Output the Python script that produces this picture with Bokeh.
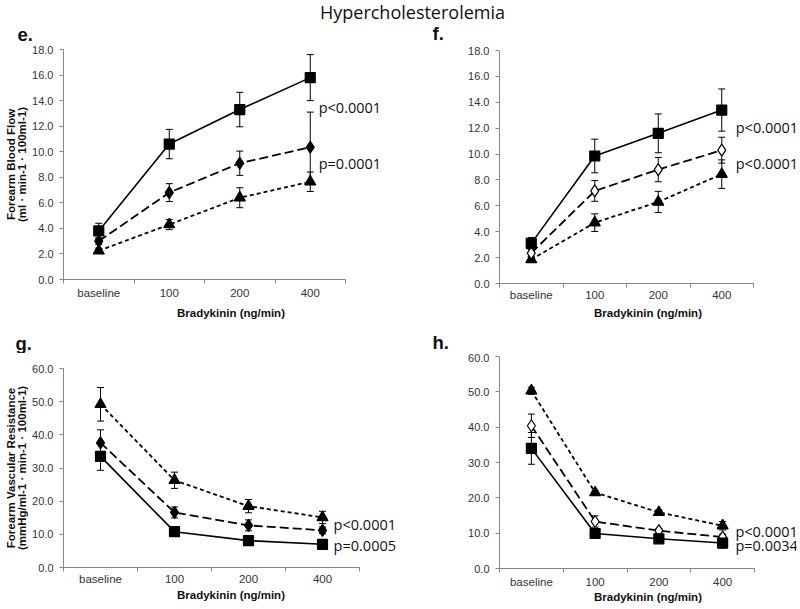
import numpy as np
from bokeh.plotting import figure
from bokeh.models import (Range1d, FixedTicker, NumeralTickFormatter, Whisker,
                          TeeHead, ColumnDataSource, Label)
from bokeh.layouts import column, row
from bokeh.embed import file_html
from bokeh.resources import INLINE

TITLE = "Hypercholesterolemia"
categories = ["baseline", "100", "200", "400"]
x_title = "Bradykinin (ng/min)"
ylabel_flow = "Forearm Blood Flow\n(ml · min-1 · 100ml-1)"
ylabel_res = "Forearm Vascular Resistance\n(mmHg/ml-1 · min-1 · 100ml-1)"
panel_letters = ["e.", "f.", "g.", "h."]

# ---- panel e (forearm blood flow) ----
e_square = [3.8, 10.6, 13.3, 15.8]
e_square_err = [0.6, 1.15, 1.35, 1.8]
e_diamond = [3.0, 6.8, 9.1, 10.35]
e_diamond_err = [0.25, 0.7, 0.95, 2.75]
e_triangle = [2.25, 4.3, 6.4, 7.65]
e_triangle_err = [0.2, 0.4, 0.78, 0.76]
e_pvals = ["p<0.0001", "p=0.0001"]

# ---- panel f (forearm blood flow) ----
f_square = [3.1, 9.85, 11.6, 13.4]
f_square_err = [0.45, 1.3, 1.5, 1.63]
f_diamond = [2.35, 7.15, 8.8, 10.3]
f_diamond_err = [0.3, 0.8, 0.94, 1.0]
f_triangle = [1.85, 4.7, 6.3, 8.45]
f_triangle_err = [0.2, 0.68, 0.82, 1.1]
f_pvals = ["p<0.0001", "p<0.0001"]

# ---- panel g (forearm vascular resistance) ----
g_square = [33.5, 10.8, 8.1, 7.0]
g_square_err = [4.2, 0.8, 0.6, 0.5]
g_diamond = [37.6, 16.6, 12.7, 11.2]
g_diamond_err = [3.9, 1.65, 1.65, 1.0]
g_triangle = [49.2, 26.3, 18.5, 15.1]
g_triangle_err = [5.05, 2.45, 2.0, 1.85]
g_pvals = ["p<0.0001", "p=0.0005"]

# ---- panel h (forearm vascular resistance) ----
h_square = [34.0, 9.9, 8.4, 7.2]
h_square_err = [4.5, 0.5, 0.5, 1.4]
h_diamond = [40.4, 13.3, 10.7, 8.9]
h_diamond_err = [3.3, 1.6, 0.6, 0.8]
h_triangle = [50.3, 21.5, 15.9, 12.1]
h_triangle_err = [1.0, 0.5, 0.7, 1.2]
h_pvals = ["p<0.0001", "p=0.0034"]

AXIS_COLOR = "#868686"
TICK_TEXT = "#333333"
FULL_W = 800


def make_panel(ylabel, ymax, ystep, squares, diamonds, triangles,
               open_diamond, pvals, pval_pos, geom, xlab_standoff, xtitle_standoff):
    # geom: left border, axis length (px) for the categories, frame width,
    #       right border, top border, frame height, bottom border
    bl, axis_px, fw, br, bt, fh, bb = geom
    n = len(categories)
    unit = axis_px / n
    p = figure(frame_width=fw, frame_height=fh, min_border_left=bl,
               min_border_right=br, min_border_top=bt, min_border_bottom=bb,
               x_range=Range1d(0, fw / unit), y_range=Range1d(0, ymax),
               toolbar_location=None, output_backend="svg", title=None)
    p.grid.visible = False
    p.outline_line_color = None

    xs = [i + 0.5 for i in range(n)]
    bounds = list(range(n + 1))

    xa = p.xaxis[0]
    xa.bounds = (0, n)
    xa.ticker = FixedTicker(ticks=xs, minor_ticks=bounds)
    xa.major_label_overrides = {x: c for x, c in zip(xs, categories)}
    xa.major_tick_out = 0
    xa.major_tick_in = 0
    xa.minor_tick_out = 4
    xa.minor_tick_in = 0
    xa.minor_tick_line_color = AXIS_COLOR
    xa.axis_line_color = AXIS_COLOR
    xa.major_label_text_font = "Liberation Sans"
    xa.major_label_text_font_size = "11.5px"
    xa.major_label_text_color = TICK_TEXT
    xa.major_label_standoff = xlab_standoff
    xa.axis_label = x_title
    xa.axis_label_text_font = "Liberation Sans"
    xa.axis_label_text_font_size = "11.5px"
    xa.axis_label_text_font_style = "bold"
    xa.axis_label_text_color = "#111111"
    xa.axis_label_standoff = xtitle_standoff

    ya = p.yaxis[0]
    yt = list(np.arange(0, ymax + ystep / 2, ystep))
    ya.ticker = FixedTicker(ticks=yt, minor_ticks=[])
    ya.formatter = NumeralTickFormatter(format="0.0")
    ya.major_tick_out = 4
    ya.major_tick_in = 0
    ya.major_tick_line_color = AXIS_COLOR
    ya.axis_line_color = AXIS_COLOR
    ya.major_label_text_font = "Liberation Sans"
    ya.major_label_text_font_size = "11px"
    ya.major_label_text_color = TICK_TEXT
    ya.major_label_standoff = 6
    if ylabel:
        ya.axis_label = ylabel
        ya.axis_label_text_font = "Liberation Sans"
        ya.axis_label_text_font_size = "11.5px"
        ya.axis_label_text_font_style = "bold"
        ya.axis_label_text_color = "#111111"
        ya.axis_label_text_line_height = 0.95
        ya.axis_label_standoff = 1

    specs = [
        (triangles, "triangle", "4 3", "black", 11),
        (diamonds, "diamond", "9 4", "white" if open_diamond else "black", 12),
        (squares, "square", "solid", "black", 10),
    ]
    for (vals, errs), marker, dash, fill, size in specs:
        src = ColumnDataSource(dict(
            x=xs, y=vals,
            upper=[v + e for v, e in zip(vals, errs)],
            lower=[v - e for v, e in zip(vals, errs)]))
        p.add_layout(Whisker(source=src, base="x", upper="upper", lower="lower",
                             line_color="black", line_width=1,
                             upper_head=TeeHead(size=7, line_color="black", line_width=1),
                             lower_head=TeeHead(size=7, line_color="black", line_width=1)))
        p.line("x", "y", source=src, line_color="black",
               line_width=1.6 if dash == "solid" else 1.8, line_dash=dash)
        p.scatter("x", "y", source=src, marker=marker, size=size,
                  fill_color=fill, line_color="black", line_width=1.2)

    for txt, (px, py) in zip(pvals, pval_pos):
        p.add_layout(Label(x=px, y=py, text=txt, text_font="Open Sans",
                           text_font_size="14.5px", text_color="#111111",
                           text_align="left", text_baseline="middle"))
    return p


def strip(height, texts):
    s = figure(width=FULL_W, height=height, x_range=Range1d(0, FULL_W),
               y_range=Range1d(height, 0), x_axis_type=None, y_axis_type=None,
               toolbar_location=None, output_backend="svg", min_border=0,
               title=None)
    s.outline_line_color = None
    s.grid.visible = False
    for txt, x, y, font, size, style, align in texts:
        s.add_layout(Label(x=x, y=y, text=txt, text_font=font,
                           text_font_size=size, text_font_style=style,
                           text_color="#111111", text_align=align,
                           text_baseline="middle"))
    return s


top_strip = strip(44, [
    (TITLE, 412, 11, "Open Sans", "18px", "normal", "center"),
    (panel_letters[0], 17, 34, "Liberation Sans", "18.5px", "bold", "left"),
    (panel_letters[1], 432, 33, "Liberation Sans", "18.5px", "bold", "left"),
])
mid_strip = strip(32, [
    (panel_letters[2], 15, 22, "Liberation Sans", "18.5px", "bold", "left"),
    (panel_letters[3], 432, 21, "Liberation Sans", "18.5px", "bold", "left"),
])

pe = make_panel(ylabel_flow, 18, 2, (e_square, e_square_err),
                (e_diamond, e_diamond_err), (e_triangle, e_triangle_err), False,
                e_pvals, [(3.62, 13.46), (3.62, 9.08)],
                (63, 282, 335, 2, 5, 230, 41), 3, 5)
pf = make_panel(None, 18, 2, (f_square, f_square_err),
                (f_diamond, f_diamond_err), (f_triangle, f_triangle_err), True,
                f_pvals, [(3.72, 12.05), (3.72, 9.27)],
                (99, 254, 297, 2, 6, 233, 37), 1, 3)
pg = make_panel(ylabel_res, 60, 10, (g_square, g_square_err),
                (g_diamond, g_diamond_err), (g_triangle, g_triangle_err), False,
                g_pvals, [(3.65, 12.96), (3.65, 6.63)],
                (63, 296, 335, 2, 15, 199, 43), 1, 1)
ph = make_panel(None, 60, 10, (h_square, h_square_err),
                (h_diamond, h_diamond_err), (h_triangle, h_triangle_err), True,
                h_pvals, [(3.70, 10.47), (3.70, 6.5)],
                (99, 255, 297, 2, 3, 212, 42), 3, 0)

layout = column(top_strip, row(column(pe), column(pf)), mid_strip,
                row(column(pg), column(ph)))
open("out.html", "w").write(file_html(layout, INLINE))
